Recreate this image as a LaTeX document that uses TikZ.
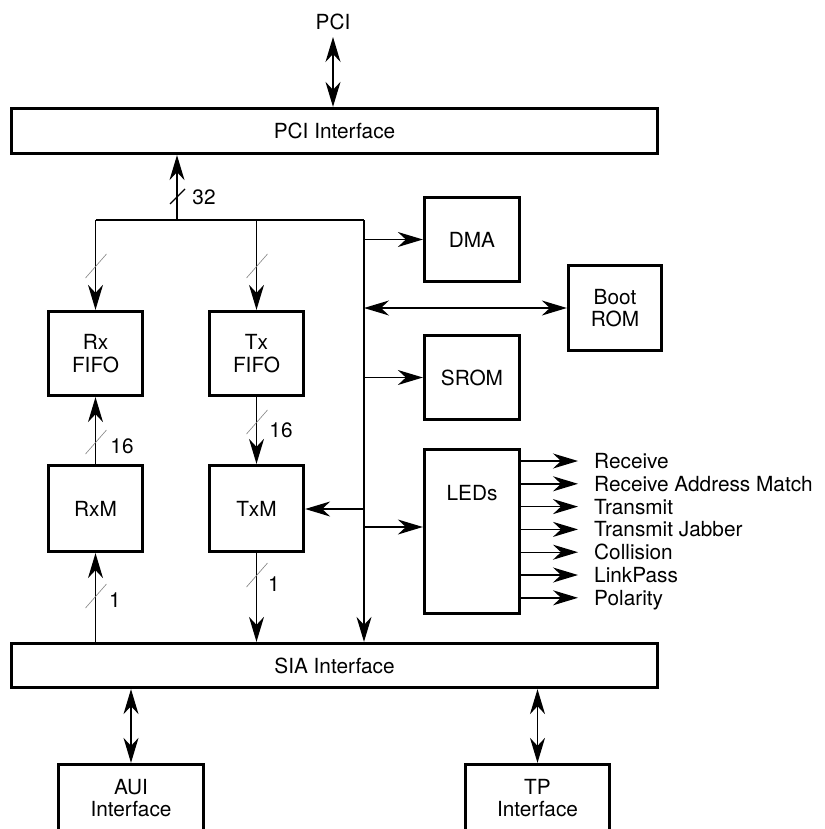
\documentclass[tikz,border=0pt]{standalone}
\usepackage{fontspec}
\setmainfont{TeX Gyre Heros}
\usetikzlibrary{arrows.meta,calc}
\newcommand\dfont{\fontsize{20.8}{22.5}\selectfont}
\begin{document}
\begin{tikzpicture}[x=1pt,y=-1pt,
  box/.style={draw,line width=3.3pt,inner sep=0pt,align=center,font=\dfont},
  lbl/.style={inner sep=0pt,font=\dfont,text height=14.8pt,text depth=0pt},
  wire/.style={line width=1.4pt},
  conn/.style={line width=1.4pt,-{Stealth[length=25pt,width=15pt,inset=8pt]}},
  bi/.style={line width=1.4pt,{Stealth[length=25pt,width=15pt,inset=8pt]}-{Stealth[length=25pt,width=15pt,inset=8pt]}},
  slash/.style={line width=0.6pt,gray},
  bslash/.style={line width=1.4pt,black}]
\clip (0,0) rectangle (824,829);
\fill[white] (0,0) rectangle (824,829);

% boxes
\node[box,minimum width=646pt,minimum height=45pt] (pci) at (334.5,131) {PCI Interface};
\node[box,minimum width=94pt,minimum height=84pt] (rxf) at (95.5,353.5) {Rx\\FIFO};
\node[box,minimum width=94pt,minimum height=84pt] (txf) at (256.5,353.5) {Tx\\FIFO};
\node[box,minimum width=94pt,minimum height=86pt] (rxm) at (95.5,508.5) {RxM};
\node[box,minimum width=94pt,minimum height=86pt] (txm) at (256.5,508.5) {TxM};
\node[box,minimum width=95pt,minimum height=84pt] (dma) at (472,239.5) {DMA};
\node[box,minimum width=93pt,minimum height=85pt] (boot) at (615,308) {Boot\\ROM};
\node[box,minimum width=95pt,minimum height=84pt] (srom) at (472,377.5) {SROM};
\node[box,minimum width=95pt,minimum height=164pt] (leds) at (472,531.5) {};
\node[lbl] (ledsl) at (472,493) {LEDs};
\node[box,minimum width=646pt,minimum height=44pt] (sia) at (334.5,665.5) {SIA Interface};
\node[box,minimum width=145pt,minimum height=67.5pt] (aui) at (131,798.25) {AUI\\Interface};
\node[box,minimum width=144pt,minimum height=67.5pt] (tp) at (537.5,798.25) {TP\\Interface};

% top PCI
\coordinate (pcitop) at (333,37);
\node[lbl] (pcil) at (333,22) {PCI};
\draw[bi] (pcitop) -- (pcitop |- pci.north);

% internal bus
\coordinate (busL) at (95.5,220);
\coordinate (busR) at (364,220);
\coordinate (bus32) at (177,220);
\draw[conn] (bus32) -- (bus32 |- pci.south);
\draw[wire] (busL) -- (busR);
\draw[conn] (busR) -- (busR |- sia.north);
\draw[conn] (busL) -- (rxf.north);
\draw[conn] (txf.north |- busL) -- (txf.north);
\draw[conn] (busR |- dma.west) -- (dma.west);
\draw[bi] (busR |- boot.west) -- (boot.west);
\draw[conn] (busR |- srom.west) -- (srom.west);
\coordinate (ledin) at (364,527);
\draw[conn] (ledin) -- (ledin -| leds.west);
\coordinate (txmin) at (364,509);
\draw[conn] (txmin) -- (txmin -| txm.east);

% FIFO / M paths
\draw[conn] (rxm.north) -- (rxf.south);
\draw[conn] (txf.south) -- (txm.north);
\draw[conn] (rxm.south |- sia.north) -- (rxm.south);
\draw[conn] (txm.south) -- (txm.south |- sia.north);

% external interfaces
\draw[bi] (sia.south -| aui.north) -- (aui.north);
\draw[bi] (sia.south -| tp.north) -- (tp.north);

% LED outputs
\foreach \i/\t in {0/Receive,1/Receive Address Match,2/Transmit,3/Transmit Jabber,4/Collision,5/LinkPass,6/Polarity}{
  \coordinate (o\i) at (578,{461+22.8*\i});
  \draw[conn] (o\i -| leds.east) -- (o\i);
  \node[lbl,anchor=west] (t\i) at (594,{461+22.8*\i}) {\t};
}

% bus width marks
\draw[bslash] (170,204) -- (185,189);
\node[lbl] (n32) at (204,197) {32};
\draw[slash] (85.5,278) -- (106.5,254);
\draw[slash] (246.5,278) -- (267.5,254);
\draw[slash] (85.5,454) -- (106.5,430);
\node[lbl] (n16a) at (122,446) {16};
\draw[slash] (246.5,434) -- (267.5,410);
\node[lbl] (n16b) at (281,430) {16};
\draw[slash] (85.5,608) -- (106.5,584);
\node[lbl] (n1a) at (115,600) {1};
\draw[slash] (246.5,587) -- (267.5,563);
\node[lbl] (n1b) at (274,584) {1};
\end{tikzpicture}
\end{document}
